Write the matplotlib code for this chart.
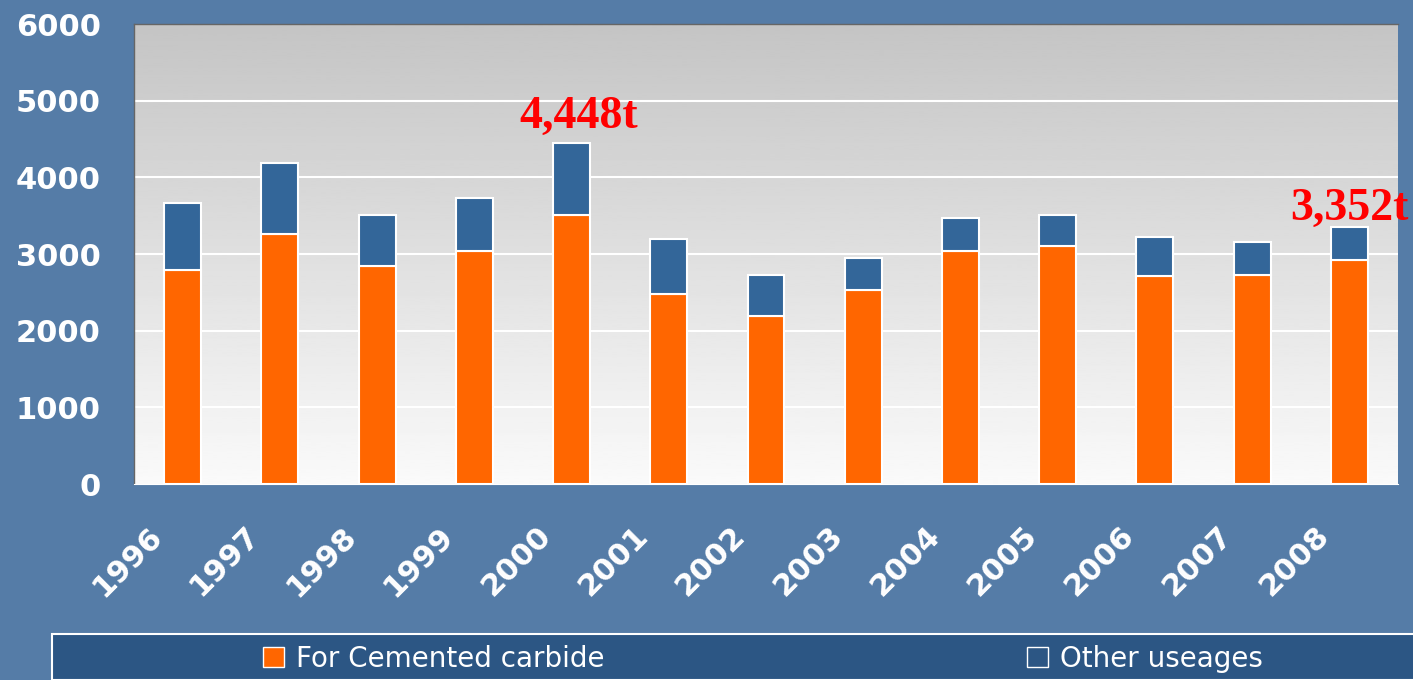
import numpy as np
import matplotlib
matplotlib.use("Agg")
import matplotlib.pyplot as plt
import matplotlib.transforms as mtransforms
from matplotlib.patches import Patch, Rectangle

years = ['1996', '1997', '1998', '1999', '2000', '2001', '2002',
         '2003', '2004', '2005', '2006', '2007', '2008']
# tonnes
carbide = [2790, 3260, 2840, 3040, 3510, 2475, 2190, 2530, 3040, 3105, 2710, 2725, 2925]
totals = [3665, 4185, 3510, 3730, 4448, 3195, 2725, 2950, 3470, 3510, 3225, 3155, 3352]
other = [t - c for t, c in zip(totals, carbide)]
series_labels = ['For Cemented carbide', 'Other useages']

orange = '#ff6600'
blue = '#336699'
bg = '#557ca7'
strip = '#2c5684'

fig = plt.figure(figsize=(14.13, 6.8), dpi=100, facecolor=bg)
ax = fig.add_axes([134 / 1413, 1 - 484 / 680, (1398 - 134) / 1413, (484 - 24) / 680])

x = np.arange(len(years))
ax.set_xlim(-0.5, len(years) - 0.5)
ax.set_ylim(0, 6000)

# grey-to-white gradient behind the plot
grad = np.linspace(0.77, 0.98, 256).reshape(-1, 1)
ax.imshow(grad, cmap='gray', vmin=0, vmax=1, aspect='auto', origin='upper',
          extent=[-0.5, len(years) - 0.5, 0, 6000], zorder=0)

for y in range(1000, 6000, 1000):
    ax.axhline(y, color='white', lw=1.5, zorder=1)

ax.bar(x, carbide, width=0.38, color=orange, edgecolor='white', lw=1.5, zorder=3)
ax.bar(x, other, width=0.38, bottom=carbide, color=blue, edgecolor='white', lw=1.5, zorder=3)

ax.annotate('4,448t', (x[4], totals[4]), xytext=(5, 4), textcoords='offset points',
            ha='center', va='bottom', color='red', fontsize=33, fontweight='bold',
            family='Liberation Serif', zorder=5)
ax.annotate('3,352t', (x[12], totals[12]), xytext=(0, -2), textcoords='offset points',
            ha='center', va='bottom', color='red', fontsize=33, fontweight='bold',
            family='Liberation Serif', zorder=5, annotation_clip=False)

ax.set_yticks(range(0, 6001, 1000))
ax.set_xticks(x)
ax.set_xticklabels(years, rotation=45, ha='right', va='center', rotation_mode='anchor')
ax.tick_params(axis='y', length=0, pad=24, labelsize=22, labelcolor='white')
ax.tick_params(axis='x', length=0, pad=34, labelsize=22, labelcolor='white')
shift = mtransforms.ScaledTranslation(-0.25, 0, fig.dpi_scale_trans)
for lab in ax.get_xticklabels():
    lab.set_transform(lab.get_transform() + shift)
for lab in ax.get_xticklabels() + ax.get_yticklabels():
    lab.set_fontweight('bold')
    lab.set_family('DejaVu Sans')

for side in ['left', 'top']:
    ax.spines[side].set_color('#666666')
    ax.spines[side].set_linewidth(1)
ax.spines['right'].set_visible(False)
ax.spines['bottom'].set_color('white')

# legend strip along the bottom
fig.patches.append(Rectangle((52 / 1413, 0), 1, 46 / 680, transform=fig.transFigure,
                             facecolor=strip, edgecolor='white', lw=1.5))
handles = [Patch(facecolor=orange, edgecolor='white'),
           Patch(facecolor=strip, edgecolor='white')]
fig.legend(handles, series_labels, loc='center left', bbox_to_anchor=(238 / 1413, 21 / 680),
           ncol=2, frameon=False, fontsize=20, labelcolor='white',
           handlelength=0.75, handleheight=0.75, handletextpad=0.45, columnspacing=15.2)

fig.savefig('out.png', dpi=100, facecolor=bg)
